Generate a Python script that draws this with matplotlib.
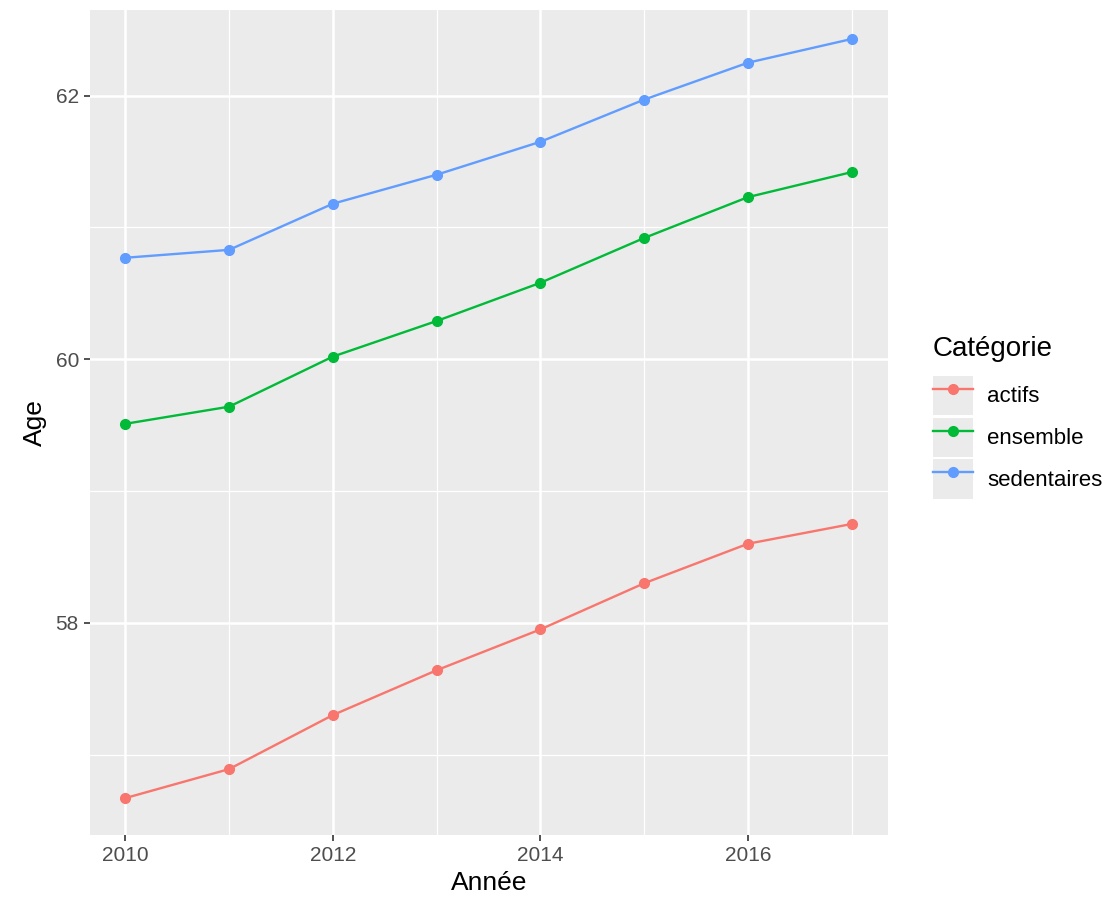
import numpy as np
import matplotlib.pyplot as plt
from matplotlib.lines import Line2D
from matplotlib.patches import Rectangle
from matplotlib.legend_handler import HandlerTuple

plt.rcParams['font.family'] = ['Liberation Sans', 'DejaVu Sans']

annees = [2010, 2011, 2012, 2013, 2014, 2015, 2016, 2017]
actifs = [56.67, 56.89, 57.30, 57.64, 57.95, 58.30, 58.60, 58.75]
ensemble = [59.51, 59.64, 60.02, 60.29, 60.58, 60.92, 61.23, 61.42]
sedentaires = [60.77, 60.83, 61.18, 61.40, 61.65, 61.97, 62.25, 62.43]

categories = ["actifs", "ensemble", "sedentaires"]
series = [actifs, ensemble, sedentaires]
couleurs = ["#F8766D", "#00BA38", "#619CFF"]

fig = plt.figure(figsize=(11.19, 9.07), dpi=100)
ax = fig.add_axes([90 / 1119, 1 - 835 / 907, 798 / 1119, 825 / 907])
ax.set_facecolor("#EBEBEB")

for nom, vals, c in zip(categories, series, couleurs):
    ax.plot(annees, vals, color=c, lw=1.7, marker="o", ms=7, zorder=3)

ax.set_xlim(2009.66, 2017.35)
ax.set_ylim(56.39, 62.65)
ax.set_xticks([2010, 2012, 2014, 2016])
ax.set_yticks([58, 60, 62])
ax.set_xticks([2011, 2013, 2015, 2017], minor=True)
ax.set_yticks([57, 59, 61], minor=True)
ax.grid(which="major", color="white", lw=1.8, zorder=0)
ax.grid(which="minor", color="white", lw=0.9, zorder=0)
ax.set_axisbelow(True)
for s in ax.spines.values():
    s.set_visible(False)
ax.tick_params(which="major", length=4, width=1.2, color="#333333",
               labelsize=15, labelcolor="#4D4D4D", pad=4)
ax.tick_params(which="minor", length=0)

ax.set_xlabel("Année", fontsize=19, color="black", labelpad=4)
ax.set_ylabel("Age", fontsize=19, color="black", labelpad=6)

handles = []
for c in couleurs:
    fond = Rectangle((0, 0), 1, 1, facecolor="#EBEBEB", edgecolor="none")
    ligne = Line2D([], [], color=c, lw=1.7, marker="o", ms=7)
    handles.append((fond, ligne))

leg = fig.legend(handles, categories, loc="upper left",
                 bbox_to_anchor=(933 / 1119, 1 - 336 / 907),
                 handler_map={tuple: HandlerTuple(ndivide=1, pad=0)},
                 frameon=False, title="Catégorie", title_fontsize=20,
                 fontsize=16, handlelength=1.8, handleheight=2.35,
                 labelspacing=0.1, handletextpad=0.65, borderaxespad=0,
                 borderpad=0)
leg._legend_box.align = "left"
leg._legend_box.sep = 10

fig.savefig("out.png", dpi=100)
